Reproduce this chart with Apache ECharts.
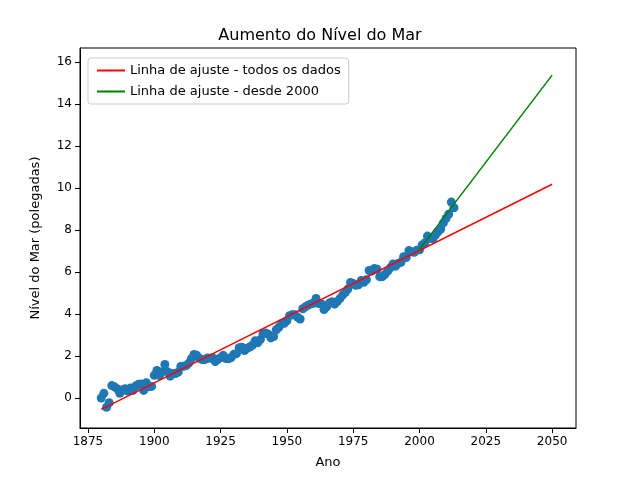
<!DOCTYPE html>
<html>
<head>
<meta charset="utf-8">
<script src="https://cdn.jsdelivr.net/npm/echarts@6/dist/echarts.min.js"></script>
</head>
<body style="margin:0">
<div id="main" style="width:640px;height:480px;"></div>
<script>
// anos e nível do mar (polegadas)
var years = [];
for (var y = 1880; y <= 2013; y++) years.push(y);
var seaLevel = [0,0.22,-0.44,-0.23,0.59,0.53,0.44,0.22,0.38,0.44,
  0.33,0.47,0.36,0.57,0.65,0.67,0.36,0.73,0.54,0.55,
  1.08,1.31,1.07,1.25,1.6,1.25,1.04,1.17,1.16,1.23,
  1.5,1.51,1.54,1.66,1.87,2.07,2.03,1.89,1.83,1.83,
  1.9,1.89,1.92,1.74,1.84,1.92,2.03,1.88,1.87,1.93,
  2.08,2.11,2.39,2.42,2.26,2.36,2.43,2.51,2.72,2.63,
  2.78,3.06,3.1,3.04,2.86,2.93,3.25,3.37,3.53,3.56,
  3.68,3.92,3.96,3.97,3.85,3.76,4.25,4.34,4.42,4.48,
  4.51,4.74,4.5,4.48,4.21,4.34,4.52,4.58,4.47,4.59,
  4.73,4.9,5.02,5.19,5.5,5.45,5.37,5.39,5.59,5.51,
  5.63,6.07,6.05,6.17,6.13,5.78,5.78,5.89,6.04,6.2,
  6.38,6.28,6.42,6.46,6.73,6.69,7.02,6.96,6.94,7.04,
  7.06,7.29,7.39,7.71,7.61,7.58,7.76,7.92,8.05,8.34,
  8.55,8.75,9.33,9.06];
var fitAllX = [1880, 2050], fitAllY = [-0.54, 10.18];
var fitRecentX = [2000, 2050], fitRecentY = [7.08, 15.38];
var xTicks = [1875,1900,1925,1950,1975,2000,2025,2050];
var yTicks = [0,2,4,6,8,10,12,14,16];

function pairs(xs, ys) { return xs.map(function (x, i) { return [x, ys[i]]; }); }

var chart = echarts.init(document.getElementById('main'));
chart.setOption({
  animation: false,
  textStyle: { fontFamily: 'DejaVu Sans' },
  title: { text: 'Aumento do Nível do Mar', left: 'center', top: 23,
    textStyle: { fontSize: 16, fontWeight: 'normal', color: '#000' } },
  grid: { left: 80, right: 64, top: 48, bottom: 52, show: true, borderColor: '#000', borderWidth: 1 },
  legend: {
    data: ['Linha de ajuste - todos os dados', 'Linha de ajuste - desde 2000'],
    orient: 'vertical', left: 88, top: 58, padding: [6, 8],
    borderColor: '#ccc', borderWidth: 1, borderRadius: 3, backgroundColor: '#fff',
    itemWidth: 28, itemHeight: 2, itemGap: 8,
    textStyle: { fontSize: 13, color: '#000' }
  },
  xAxis: {
    type: 'value', min: 1872, max: 2059, name: 'Ano', nameLocation: 'middle', nameGap: 28,
    nameTextStyle: { fontSize: 13, color: '#000' },
    axisLine: { onZero: false, lineStyle: { color: '#000' } },
    axisTick: { customValues: xTicks, lineStyle: { color: '#000' } },
    axisLabel: { customValues: xTicks, color: '#000', fontSize: 12,
      formatter: function (v) { return String(v); } },
    splitLine: { show: false }
  },
  yAxis: {
    type: 'value', min: -1.43, max: 16.67, name: 'Nível do Mar (polegadas)', nameLocation: 'middle', nameGap: 38,
    nameTextStyle: { fontSize: 13, color: '#000' },
    axisLine: { show: true, onZero: false, lineStyle: { color: '#000' } },
    axisTick: { show: true, customValues: yTicks, lineStyle: { color: '#000' } },
    axisLabel: { customValues: yTicks, color: '#000', fontSize: 12 },
    splitLine: { show: false }
  },
  series: [
    { type: 'scatter', data: pairs(years, seaLevel), symbolSize: 9,
      itemStyle: { color: '#1f77b4', opacity: 1 } },
    { name: 'Linha de ajuste - todos os dados', type: 'line', data: pairs(fitAllX, fitAllY),
      symbol: 'none', lineStyle: { color: 'red', width: 1.5 }, itemStyle: { color: 'red' } },
    { name: 'Linha de ajuste - desde 2000', type: 'line', data: pairs(fitRecentX, fitRecentY),
      symbol: 'none', lineStyle: { color: 'green', width: 1.5 }, itemStyle: { color: 'green' } }
  ]
});
</script>
</body>
</html>
